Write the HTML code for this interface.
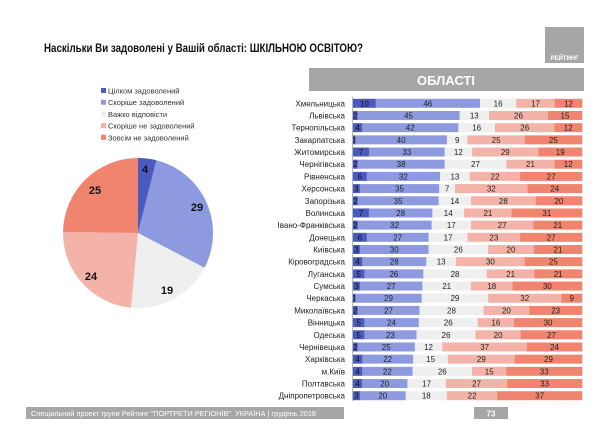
<!DOCTYPE html>
<html><head><meta charset="utf-8"><style>
html,body{margin:0;padding:0;background:#fff;width:600px;height:428px;overflow:hidden}
svg{display:block;font-family:"Liberation Sans",sans-serif}
</style></head><body>
<svg id="s" width="600" height="428" xmlns="http://www.w3.org/2000/svg">
<text x="44" y="52" font-size="12" font-weight="bold" fill="#111" textLength="319" lengthAdjust="spacingAndGlyphs">Наскільки Ви задоволені у Вашій області: ШКІЛЬНОЮ ОСВІТОЮ?</text>
<rect x="545" y="27" width="39" height="36" fill="#a6a6a6"/>
<text x="564.5" y="60" font-size="6" font-weight="bold" fill="#fff" text-anchor="middle">РЕЙТИНГ</text>
<rect x="309" y="68" width="275" height="23" fill="#a6a6a6"/>
<text x="446" y="85" font-size="13" font-weight="bold" fill="#fff" text-anchor="middle">ОБЛАСТІ</text>
<rect x="26" y="407" width="318" height="12" fill="#a6a6a6"/>
<text x="31" y="416" font-size="7" fill="#fff" textLength="285" lengthAdjust="spacingAndGlyphs">Спеціальний проект групи Рейтинг "ПОРТРЕТИ РЕГІОНІВ". УКРАЇНА | грудень 2018</text>
<rect x="474" y="407" width="34" height="12" fill="#a6a6a6"/>
<text x="491" y="416.5" font-size="8" font-weight="bold" fill="#fff" text-anchor="middle">73</text>
<line x1="352.5" y1="97" x2="352.5" y2="401" stroke="#999" stroke-width="0.7"/>
<g id="legend" font-size="7.5" fill="#333"></g>
<g id="pie"></g>
<g id="bars" font-size="8"></g>
</svg>
<script>
var C=["#4a5bbd","#8e9ae0","#efefef","#f4b3a8","#f0846f"];
var ns="http://www.w3.org/2000/svg",s=document.getElementById('s');
function el(p,t,a,txt){var e=document.createElementNS(ns,t);for(var k in a)e.setAttribute(k,a[k]);if(txt!=null)e.textContent=txt;p.appendChild(e);return e;}
var L=["Цілком задоволений","Скоріше задоволений","Важко відповісти","Скоріше не задоволений","Зовсім не задоволений"];
var lg=document.getElementById('legend');
L.forEach(function(t,i){var y=91+i*11.7;el(lg,'rect',{x:101,y:y-3,width:5,height:5,fill:C[i]});el(lg,'text',{x:108,y:y+2.5},t);});
var pv=[4,29,19,24,25],cx=138,cy=233,r=75,a=0,tot=101,pg=document.getElementById('pie');
var lp=[[145,169],[197,207],[167,290],[91,276],[95,190]];
pv.forEach(function(v,i){var a1=a+v/tot*2*Math.PI;var x0=cx+r*Math.sin(a),y0=cy-r*Math.cos(a),x1=cx+r*Math.sin(a1),y1=cy-r*Math.cos(a1);
el(pg,'path',{d:'M'+cx+','+cy+'L'+x0+','+y0+'A'+r+','+r+' 0 '+((a1-a)>Math.PI?1:0)+' 1 '+x1+','+y1+'Z',fill:C[i]});a=a1;});
pv.forEach(function(v,i){el(pg,'text',{x:lp[i][0],y:lp[i][1]+4,'font-size':11,'font-weight':'bold','text-anchor':'middle',fill:'#111'},v);});
var D=[["Хмельницька",10,46,16,17,12],["Львівська",2,45,13,26,15],["Тернопільська",4,42,16,26,12],["Закарпатська",1,40,9,25,25],["Житомирська",7,33,12,29,19],["Чернігівська",2,38,27,21,12],["Рівненська",6,32,13,22,27],["Херсонська",3,35,7,32,24],["Запорізька",2,35,14,28,20],["Волинська",7,28,14,21,31],["Івано-Франківська",2,32,17,27,21],["Донецька",6,27,17,23,27],["Київська",3,30,26,20,21],["Кіровоградська",4,28,13,30,25],["Луганська",5,26,28,21,21],["Сумська",3,27,21,18,30],["Черкаська",1,29,29,32,9],["Миколаївська",2,27,28,20,23],["Вінницька",5,24,26,16,30],["Одеська",5,23,26,20,27],["Чернівецька",2,25,12,37,24],["Харківська",4,22,15,29,29],["м.Київ",4,22,26,15,33],["Полтавська",4,20,17,27,33],["Дніпропетровська",3,20,18,22,37]];
var bg=document.getElementById('bars'),x0=353,W=229;
D.forEach(function(d,j){var y=103.3+j*((395.7-103.3)/(D.length-1));var sum=d[1]+d[2]+d[3]+d[4]+d[5],x=x0;
el(bg,'text',{x:345,y:y+3,'text-anchor':'end',fill:'#222'},d[0]);
for(var i=0;i<5;i++){var w=d[i+1]/sum*W;el(bg,'rect',{x:x,y:y-4.5,width:w+0.3,height:9,fill:C[i]});
var tx=i==0?x+Math.max(w/2,1.5):x+w/2;el(bg,'text',{x:tx,y:y+3,'text-anchor':'middle',fill:i==0?'#111':'#222'},d[i+1]);x+=w;}
});
</script>
</body></html>
